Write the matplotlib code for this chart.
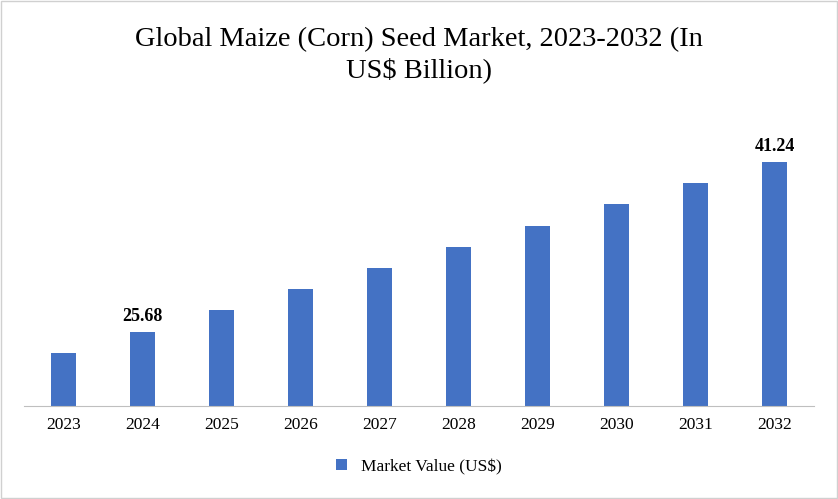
import matplotlib.pyplot as plt
from matplotlib.patches import Rectangle

# data
years = ['2023', '2024', '2025', '2026', '2027', '2028', '2029', '2030', '2031', '2032']
values = [23.76, 25.68, 27.70, 29.62, 31.54, 33.46, 35.38, 37.40, 39.30, 41.24]
labelled = {'2024': 25.68, '2032': 41.24}

bar_color = '#4472C4'
font = 'Liberation Serif'

fig = plt.figure(figsize=(8.38, 4.99), dpi=100)
ax = fig.add_axes([24 / 838, 1 - 406 / 499, 790 / 838, 306 / 499])

x = range(len(years))
ax.bar(x, values, width=0.32, color=bar_color, label='Market Value (US$)')
for i, (yr, v) in enumerate(zip(years, values)):
    if yr in labelled:
        ax.text(i, v + 0.6, f'{v:.2f}', ha='center', va='bottom',
                fontsize=13, fontweight='bold', family=font)

ax.set_ylim(18.91, 46.9)
ax.set_xlim(-0.5, len(years) - 0.5)
ax.set_xticks(list(x))
ax.set_xticklabels(years, family=font, fontsize=12.5)
ax.tick_params(axis='x', length=0, pad=8)
ax.set_yticks([])
for side in ['top', 'right', 'left']:
    ax.spines[side].set_visible(False)
ax.spines['bottom'].set_color('#bfbfbf')

fig.text(0.5, 1 - 40 / 499, 'Global Maize (Corn) Seed Market, 2023-2032 (In',
         ha='center', va='center', fontsize=20.5, family=font)
fig.text(0.5, 1 - 70 / 499, 'US$ Billion)', ha='center', va='center',
         fontsize=20.5, family=font)

leg = fig.legend(loc='center', bbox_to_anchor=(0.5, 1 - 467 / 499), frameon=False,
                 prop={'family': font, 'size': 12.5}, handlelength=0.6, handleheight=0.6)

fig.patches.append(Rectangle((0.001, 0.002), 0.998, 0.996, transform=fig.transFigure,
                             fill=False, edgecolor='#d0d0d0', lw=1))
fig.savefig('out.png', dpi=100)
